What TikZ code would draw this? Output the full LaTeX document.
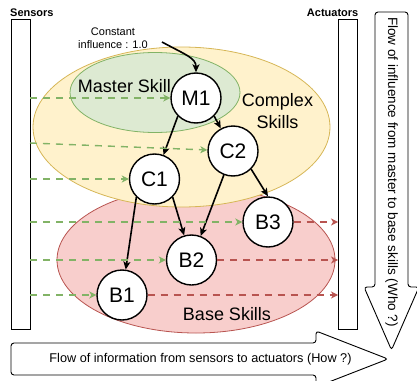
\documentclass[tikz,border=0pt]{standalone}
\usepackage{fontspec}
\setmainfont{Liberation Sans}
\usetikzlibrary{arrows.meta}
\definecolor{ylwfill}{HTML}{FFF2CC}
\definecolor{ylwline}{HTML}{D6B656}
\definecolor{grnfill}{HTML}{D5E8D4}
\definecolor{grnline}{HTML}{82B366}
\definecolor{redfill}{HTML}{F8CECC}
\definecolor{redline}{HTML}{B85450}
\tikzset{
  skill/.style={circle, draw=black, fill=white, line width=1.4pt, minimum size=50pt, inner sep=0pt, font=\fontsize{21}{24}\selectfont},
  bar/.style={draw=black, line width=0.9pt, fill=white, minimum width=19pt, minimum height=310pt, inner sep=0pt},
  infl/.style={draw=black, line width=1.6pt, -{Stealth[length=8pt,width=7pt,inset=2pt]}},
  sensflow/.style={draw=grnline, line width=1.4pt, dash pattern=on 7pt off 6pt, -{Stealth[length=7pt,width=7pt,inset=2pt]}},
  actflow/.style={draw=redline, line width=1.4pt, dash pattern=on 7pt off 6pt, -{Stealth[length=7pt,width=7pt,inset=2pt]}},
  grouplabel/.style={font=\fontsize{18}{22}\selectfont, align=center, inner sep=0pt},
  flowarrow/.style={draw=black, line width=0.9pt, fill=white, rounded corners=3pt}
}
\begin{document}
\begin{tikzpicture}[x=1pt,y=-1pt]
\useasboundingbox (0,0) rectangle (417,380);
% group ellipses
\draw[fill=redfill, draw=redline, line width=0.8pt] (196,260) ellipse [x radius=139, y radius=73];
\draw[fill=ylwfill, draw=ylwline, line width=0.8pt] (181.5,127) ellipse [x radius=148.5, y radius=80];
\draw[fill=grnfill, draw=grnline, line width=0.8pt, fill opacity=0.8] (155,92.5) ellipse [x radius=85, y radius=40];
% group labels
\node[grouplabel] (lmaster) at (124.5,86) {Master Skill};
\node[grouplabel] (lcomplex) at (277.5,111) {Complex\\Skills};
\node[grouplabel] (lbase) at (227,314) {Base Skills};
% sensors and actuators
\node[bar] (sens) at (20.5,174) {};
\node[bar] (act) at (348,174) {};
\node[anchor=west, inner sep=0pt, font=\bfseries\fontsize{11}{13}\selectfont] (lsens) at (10,13) {Sensors};
\node[anchor=east, inner sep=0pt, font=\bfseries\fontsize{11}{13}\selectfont] (lact) at (358.5,13) {Actuators};
% skills
\node[skill] (M1) at (196,98) {M1};
\node[skill] (C2) at (233,151) {C2};
\node[skill] (C1) at (154.5,179) {C1};
\node[skill] (B3) at (268,222) {B3};
\node[skill] (B2) at (191.5,260) {B2};
\node[skill] (B1) at (122,295) {B1};
% constant influence
\node[align=center, inner sep=0pt, font=\fontsize{11}{12.5}\selectfont] (ci) at (113,38) {Constant\\influence : 1.0};
\coordinate (cst) at (162,42);
\draw[infl] (cst) .. controls (186,55) and (196,58) .. (M1.north);
% influence arrows
\draw[infl] (M1.south west) -- (C1);
\draw[infl] (M1.south east) -- (C2);
\draw[infl] (C1.south west) -- (B1);
\draw[infl] (C1.south east) -- (B2);
\draw[infl] (C2) -- (B2);
\draw[infl] (C2.south east) -- (B3.north);
% sensor flows
\coordinate (s2) at (30,143);
\draw[sensflow] (sens.east |- M1) -- (M1.west);
\draw[sensflow] (s2) -- (C2);
\draw[sensflow] (sens.east |- C1) -- (C1.west);
\draw[sensflow] (sens.east |- B3) -- (B3.west);
\draw[sensflow] (sens.east |- B2) -- (B2.west);
\draw[sensflow] (sens.east |- B1) -- (B1.west);
% actuator flows
\draw[actflow] (B3.east) -- (act.west |- B3);
\draw[actflow] (B2.east) -- (act.west |- B2);
\draw[actflow] (B1.east) -- (act.west |- B1);
% big flow arrows
\draw[flowarrow] (375,12) -- (408,12) -- (408,287) -- (419,287) -- (391.5,350) -- (364,287) -- (375,287) -- cycle;
\node[rotate=-90, inner sep=0pt, font=\fontsize{13.5}{16}\selectfont] (whotext) at (391.5,172) {Flow of influence from master to base skills (Who ?)};
\draw[flowarrow] (11,343) -- (316,343) -- (316,331) -- (388,359) -- (316,387) -- (316,375) -- (11,375) -- cycle;
\node[inner sep=0pt, font=\fontsize{12.7}{15}\selectfont] (howtext) at (200.5,359) {Flow of information from sensors to actuators (How ?)};
\end{tikzpicture}
\end{document}
